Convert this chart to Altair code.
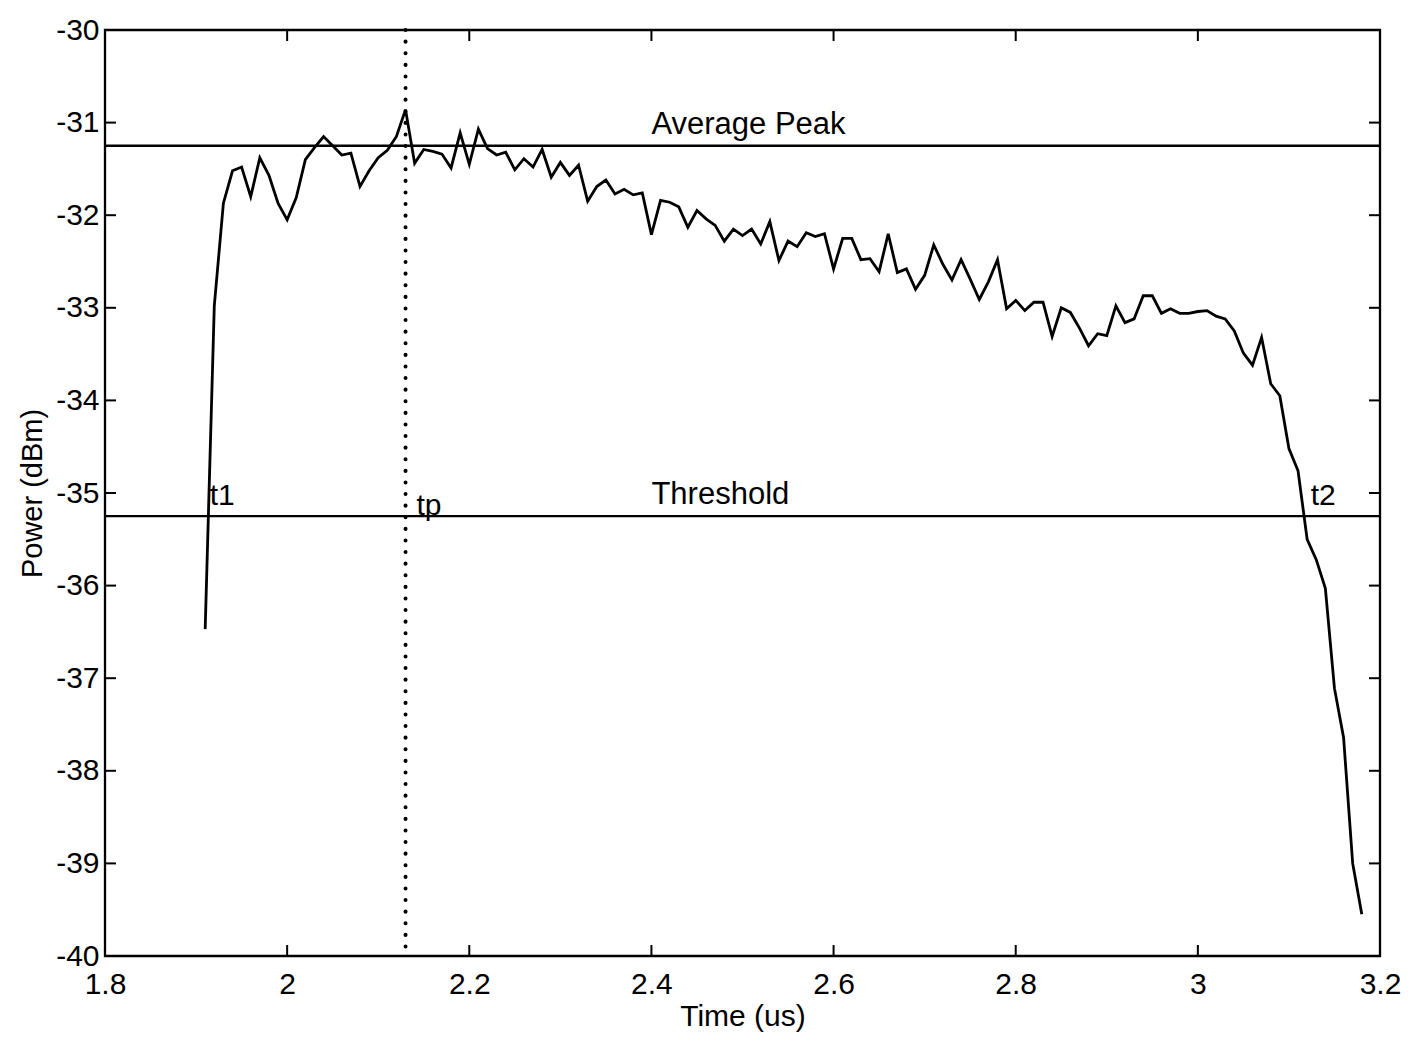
import altair as alt
import pandas as pd

# ---- data ----
time_us = [
    1.91, 1.92, 1.93, 1.94, 1.95, 1.96, 1.97, 1.98, 1.99, 2.00,
    2.01, 2.02, 2.03, 2.04, 2.05, 2.06, 2.07, 2.08, 2.09, 2.10,
    2.11, 2.12, 2.13, 2.14, 2.15, 2.16, 2.17, 2.18, 2.19, 2.20,
    2.21, 2.22, 2.23, 2.24, 2.25, 2.26, 2.27, 2.28, 2.29, 2.30,
    2.31, 2.32, 2.33, 2.34, 2.35, 2.36, 2.37, 2.38, 2.39, 2.40,
    2.41, 2.42, 2.43, 2.44, 2.45, 2.46, 2.47, 2.48, 2.49, 2.50,
    2.51, 2.52, 2.53, 2.54, 2.55, 2.56, 2.57, 2.58, 2.59, 2.60,
    2.61, 2.62, 2.63, 2.64, 2.65, 2.66, 2.67, 2.68, 2.69, 2.70,
    2.71, 2.72, 2.73, 2.74, 2.75, 2.76, 2.77, 2.78, 2.79, 2.80,
    2.81, 2.82, 2.83, 2.84, 2.85, 2.86, 2.87, 2.88, 2.89, 2.90,
    2.91, 2.92, 2.93, 2.94, 2.95, 2.96, 2.97, 2.98, 2.99, 3.00,
    3.01, 3.02, 3.03, 3.04, 3.05, 3.06, 3.07, 3.08, 3.09, 3.10,
    3.11, 3.12, 3.13, 3.14, 3.15, 3.16, 3.17, 3.18,
]

power_dbm = [
    -36.47, -32.98, -31.87, -31.52, -31.48, -31.80, -31.38, -31.57, -31.87, -32.05,
    -31.81, -31.40, -31.27, -31.15, -31.25, -31.35, -31.33, -31.69, -31.52, -31.38,
    -31.30, -31.15, -30.86, -31.44, -31.29, -31.31, -31.34, -31.49, -31.11, -31.45,
    -31.07, -31.28, -31.35, -31.32, -31.51, -31.39, -31.48, -31.29, -31.59, -31.43,
    -31.57, -31.46, -31.85, -31.69, -31.62, -31.77, -31.72, -31.78, -31.76, -32.21,
    -31.84, -31.86, -31.91, -32.13, -31.95, -32.04, -32.11, -32.28, -32.15, -32.22,
    -32.15, -32.31, -32.07, -32.49, -32.28, -32.34, -32.19, -32.23, -32.20, -32.58,
    -32.25, -32.25, -32.48, -32.47, -32.61, -32.20, -32.62, -32.58, -32.80, -32.65,
    -32.32, -32.53, -32.70, -32.48, -32.69, -32.91, -32.72, -32.48, -33.01, -32.92,
    -33.03, -32.94, -32.94, -33.31, -33.00, -33.05, -33.22, -33.41, -33.28, -33.30,
    -32.98, -33.16, -33.12, -32.87, -32.87, -33.06, -33.01, -33.06, -33.06, -33.04,
    -33.03, -33.09, -33.12, -33.25, -33.49, -33.62, -33.32, -33.82, -33.95, -34.52,
    -34.76, -35.50, -35.72, -36.03, -37.11, -37.64, -39.00, -39.55,
]

x_tick_values = [1.8, 2.0, 2.2, 2.4, 2.6, 2.8, 3.0, 3.2]
y_tick_values = [-40, -39, -38, -37, -36, -35, -34, -33, -32, -31, -30]

level_names = ["Average Peak", "Threshold"]
level_values = [-31.25, -35.25]
level_label_times = [2.40, 2.40]

tp_time = [2.13]

marker_labels = ["t1", "t2"]
marker_times = [1.915, 3.124]
tp_label = ["tp"]
tp_label_time = [2.142]

# ---- layout / style ----
W, H = 1275, 926
FONT = "Liberation Sans"
LBL = "'' + datum.value"

xs = alt.Scale(domain=[1.8, 3.2], nice=False, zero=False)
ys = alt.Scale(domain=[-40, -30], nice=False, zero=False)

x_axis = alt.Axis(
    values=x_tick_values, labelExpr=LBL, title="Time (us)", grid=False,
    domain=False, ticks=False, labelFont=FONT, labelFontSize=30,
    labelColor="black", labelPadding=13, labelFlush=False,
    titleFont=FONT, titleFontSize=30, titleFontWeight="normal",
    titleColor="black", titlePadding=2,
)
y_axis = alt.Axis(
    values=y_tick_values, labelExpr=LBL, title="Power (dBm)", grid=False,
    domain=False, ticks=False, labelFont=FONT, labelFontSize=30,
    labelColor="black", labelPadding=6, labelFlush=False,
    titleFont=FONT, titleFontSize=29, titleFontWeight="normal",
    titleColor="black", titlePadding=8,
)


def X(field):
    return alt.X(f"{field}:Q", scale=xs, axis=x_axis)


def Y(field):
    return alt.Y(f"{field}:Q", scale=ys, axis=y_axis)


curve_df = pd.DataFrame({"t": time_us, "p": power_dbm})
level_df = pd.DataFrame({"name": level_names, "p": level_values, "t": level_label_times})
tp_df = pd.DataFrame({"t": tp_time})
marker_df = pd.DataFrame({"name": marker_labels, "t": marker_times, "p": [level_values[1]] * len(marker_times)})
tp_lbl_df = pd.DataFrame({"name": tp_label, "t": tp_label_time, "p": [level_values[1]]})
xt_df = pd.DataFrame({"t": x_tick_values})
yt_df = pd.DataFrame({"p": y_tick_values})

curve = alt.Chart(curve_df).mark_line(color="black", strokeWidth=2.8, strokeJoin="miter").encode(
    x=X("t"), y=Y("p"), order="t:Q"
)

levels = alt.Chart(level_df).mark_rule(color="black", strokeWidth=2.3).encode(y=Y("p"))

level_text = alt.Chart(level_df).mark_text(
    align="left", baseline="alphabetic", dy=-12, font=FONT, fontSize=31, color="black"
).encode(x=X("t"), y=Y("p"), text="name:N")

tp_line = alt.Chart(tp_df).mark_rule(
    color="black", strokeWidth=4, strokeDash=[0.1, 11.5], strokeCap="round"
).encode(x=X("t"))

marker_text = alt.Chart(marker_df).mark_text(
    align="left", baseline="alphabetic", dy=-11, font=FONT, fontSize=30, color="black"
).encode(x=X("t"), y=Y("p"), text="name:N")

tp_text = alt.Chart(tp_lbl_df).mark_text(
    align="left", baseline="alphabetic", dy=-1, font=FONT, fontSize=30, color="black"
).encode(x=X("t"), y=Y("p"), text="name:N")

TL = 11
tick_style = dict(color="black", strokeWidth=2)
ticks_bottom = alt.Chart(xt_df).mark_rule(**tick_style).encode(
    x=X("t"), y=alt.value(H), y2=alt.value(H - TL))
ticks_top = alt.Chart(xt_df).mark_rule(**tick_style).encode(
    x=X("t"), y=alt.value(0), y2=alt.value(TL))
ticks_left = alt.Chart(yt_df).mark_rule(**tick_style).encode(
    y=Y("p"), x=alt.value(0), x2=alt.value(TL))
ticks_right = alt.Chart(yt_df).mark_rule(**tick_style).encode(
    y=Y("p"), x=alt.value(W - TL), x2=alt.value(W))

chart = alt.layer(
    levels, tp_line, curve, level_text, marker_text, tp_text,
    ticks_bottom, ticks_top, ticks_left, ticks_right,
).properties(
    width=W, height=H,
    autosize=alt.AutoSizeParams(type="none"),
    padding={"left": 105, "top": 30, "right": 28, "bottom": 84},
    background="white",
).configure_view(
    stroke="black", strokeWidth=2.3
)

chart.save("out.html", embed_options={"renderer": "svg", "actions": False})
